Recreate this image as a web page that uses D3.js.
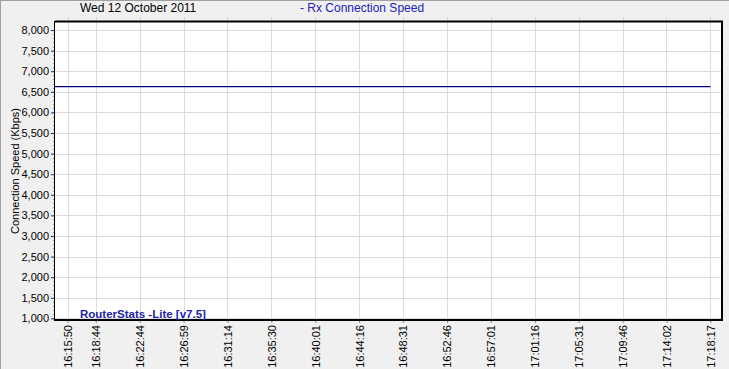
<!DOCTYPE html>
<html>
<head>
<meta charset="utf-8">
<script src="https://cdn.jsdelivr.net/npm/d3@7"></script>
<style>
  html, body { margin: 0; padding: 0; background: #f0f0f0; }
  svg { display: block; font-family: "Liberation Sans", Arial, sans-serif; }
</style>
</head>
<body>
<div id="chart"></div>
<script>
// tick labels on the time axis and the sample index where each one sits
let tickTimes = ["16:15:50", "16:18:44", "16:22:44", "16:26:59", "16:31:14", "16:35:30",
                 "16:40:01", "16:44:16", "16:48:31", "16:52:46", "16:57:01", "17:01:16",
                 "17:05:31", "17:09:46", "17:14:02", "17:18:17"];
let tickIdx = [4, 13, 27, 41, 55, 69, 83, 97, 111, 125, 139, 153, 167, 181, 195, 209];

// Rx connection speed samples (Kbps) - flat line all session
let sampleIdx = [0, 4, 13, 27, 41, 55, 69, 83, 97, 111, 125, 139, 153, 167, 181, 195, 209];
let rxSpeed = [6624, 6624, 6624, 6624, 6624, 6624, 6624, 6624, 6624, 6624, 6624, 6624,
               6624, 6624, 6624, 6624, 6624];

let yTicks = [1000, 1500, 2000, 2500, 3000, 3500, 4000, 4500, 5000, 5500, 6000, 6500, 7000, 7500, 8000];

let W = 729, H = 369;
let margin = {top: 22, right: 7, bottom: 49, left: 55},
    width = W - margin.left - margin.right,
    height = H - margin.top - margin.bottom;

let svg = d3.select("#chart")
    .append("svg")
    .attr("width", W)
    .attr("height", H);

// outer frame lines (top + left)
svg.append("rect").attr("x", 0).attr("y", 0).attr("width", W).attr("height", H).attr("fill", "#f0f0f0");
svg.append("line").attr("x1", 0).attr("x2", W).attr("y1", 0.5).attr("y2", 0.5).attr("stroke", "#a0a0a0");
svg.append("line").attr("x1", 0.5).attr("x2", 0.5).attr("y1", 0).attr("y2", H).attr("stroke", "#a0a0a0");

let g = svg.append("g")
    .attr("transform", "translate(" + margin.left + "," + margin.top + ")");

let x = d3.scaleLinear()
    .domain([0, 212.7])
    .range([0, width]);

let y = d3.scaleLinear()
    .domain([960, 8195])
    .range([height, 0]);

g.append("rect")
    .attr("width", width)
    .attr("height", height)
    .attr("fill", "#ffffff");

// grid
g.append("g")
    .selectAll("line")
    .data(yTicks)
    .enter()
    .append("line")
    .attr("x1", 0).attr("x2", width)
    .attr("y1", d => Math.round(y(d)) + 0.5)
    .attr("y2", d => Math.round(y(d)) + 0.5)
    .attr("stroke", "#dcdcdc");

g.append("g")
    .selectAll("line")
    .data(tickIdx)
    .enter()
    .append("line")
    .attr("x1", d => Math.round(x(d)) + 0.5)
    .attr("x2", d => Math.round(x(d)) + 0.5)
    .attr("y1", -5).attr("y2", height)
    .attr("stroke", "#dcdcdc");

// y axis with minor ticks
let minor = d3.range(1000, 8001, 100);
g.append("g")
    .selectAll("line")
    .data(minor)
    .enter()
    .append("line")
    .attr("x1", -2).attr("x2", 0)
    .attr("y1", d => Math.round(y(d)) + 0.5)
    .attr("y2", d => Math.round(y(d)) + 0.5)
    .attr("stroke", "#999");

let yAxis = g.append("g")
    .call(d3.axisLeft(y).tickValues(yTicks).tickFormat(d3.format(",")).tickSize(4).tickPadding(2));
yAxis.select(".domain").remove();
yAxis.selectAll("line").attr("stroke", "#333");
yAxis.selectAll("text")
    .attr("fill", "#000")
    .style("font-size", "11px");

// x axis labels, rotated
let xAxis = g.append("g")
    .attr("transform", "translate(0," + height + ")")
    .call(d3.axisBottom(x).tickValues(tickIdx).tickFormat((d, i) => tickTimes[i]).tickSize(3));
xAxis.select(".domain").remove();
xAxis.selectAll("line").attr("stroke", "#888");
xAxis.selectAll("text")
    .attr("fill", "#000")
    .style("font-size", "11px")
    .attr("text-anchor", "end")
    .attr("transform", "rotate(-90)")
    .attr("x", -5)
    .attr("y", 0)
    .attr("dy", "0.35em");

// series
let line = d3.line()
    .x((d, i) => x(sampleIdx[i]))
    .y(d => y(d));

g.append("path")
    .datum(rxSpeed)
    .attr("fill", "none")
    .attr("stroke", "#000080")
    .attr("stroke-width", 1.2)
    .attr("d", line);

// plot frame
g.append("line").attr("x1", 0).attr("x2", width + 1).attr("y1", -0.5).attr("y2", -0.5).attr("stroke", "#000").attr("stroke-width", 2);
g.append("line").attr("x1", -0.5).attr("x2", -0.5).attr("y1", -1).attr("y2", height + 1).attr("stroke", "#000").attr("stroke-width", 1);
g.append("line").attr("x1", width).attr("x2", width).attr("y1", -1).attr("y2", height + 1).attr("stroke", "#000").attr("stroke-width", 2);
g.append("line").attr("x1", -1).attr("x2", width + 1).attr("y1", height).attr("y2", height).attr("stroke", "#000").attr("stroke-width", 2);

// texts
svg.append("text")
    .attr("x", 80).attr("y", 12)
    .style("font-size", "12px")
    .attr("fill", "#000")
    .text("Wed 12 October 2011");

svg.append("text")
    .attr("x", 300).attr("y", 12)
    .style("font-size", "12px")
    .attr("fill", "#2222bb")
    .text("- Rx Connection Speed");

svg.append("text")
    .attr("transform", "translate(19," + (margin.top + height / 2) + ") rotate(-90)")
    .attr("text-anchor", "middle")
    .style("font-size", "11px")
    .attr("fill", "#000")
    .text("Connection Speed (Kbps)");

svg.append("text")
    .attr("x", 80).attr("y", 318)
    .style("font-size", "11.5px")
    .style("font-weight", "bold")
    .attr("fill", "#2222aa")
    .text("RouterStats -Lite [v7.5]");
</script>
</body>
</html>
